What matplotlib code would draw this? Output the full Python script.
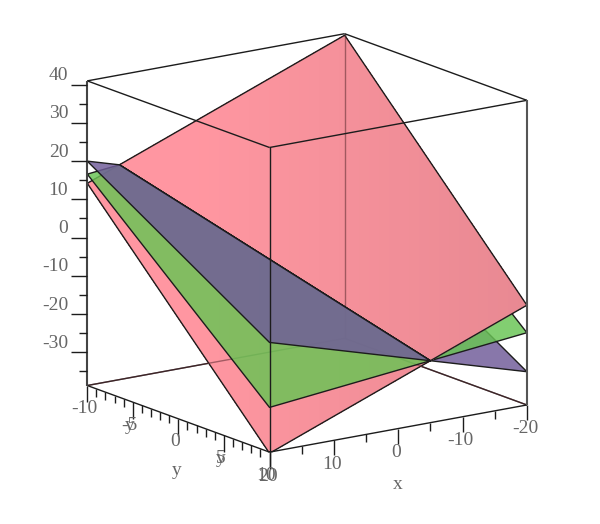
import numpy as np
import matplotlib
matplotlib.use("Agg")
import matplotlib.pyplot as plt
from mpl_toolkits.mplot3d import proj3d
from mpl_toolkits.mplot3d.art3d import Poly3DCollection

# axis ranges and ticks
x_range = [-20, 20]
y_range = [-10, 10]
z_range = [-38.7, 41.0]
x_major = [20, 10, 0, -10, -20]
x_minor = [15, 5, -5, -15]
y_major = [-10, -5, 0, 5, 10]
y_minor = [-9, -8, -7, -6, -4, -3, -2, -1, 1, 2, 3, 4, 6, 7, 8, 9]
z_major = [40, 30, 20, 10, 0, -10, -20, -30]
z_minor = [35, 25, 15, 5, -5, -15, -25, -35]

# height of each plane at the corners (x=20,y=-10), (x=20,y=10), (x=-20,y=10)
pink_z = [14.2, -39.0, -12.6]
green_z = [16.6, -27.0, -19.8]
purple_z = [20.0, -10.0, -30.0]

colors = [(1.0, 0.59, 0.63), (0.41, 0.77, 0.33), (0.44, 0.36, 0.60)]
alphas = [1.0, 0.83, 0.83]
ELEV, AZIM = 15.0, 54.7
SIDE_PX = 316.0
CENTER_PX = 307.75
LINE = "#1c1c1c"
GREY = "#666666"

th = np.radians(AZIM)
el = np.radians(ELEV)
x_span = x_range[1] - x_range[0]
y_span = y_range[1] - y_range[0]
z_span = z_range[1] - z_range[0]


def shift(right, down):
    # data offset that moves a point by some pixels on screen
    dx = -np.sin(th) * right * x_span / SIDE_PX
    dy = np.cos(th) * right * y_span / SIDE_PX
    dz = -down / np.cos(el) * z_span / SIDE_PX
    return np.array([dx, dy, dz])


def plane_from(zs):
    a = (zs[1] - zs[2]) / 40.0
    b = (zs[1] - zs[0]) / 20.0
    c = zs[0] - a * 20 + b * 10
    return a, b, c


def clip(verts, f):
    # keep the part of a convex polygon where f >= 0
    out = []
    n = len(verts)
    vals = [f(v) for v in verts]
    for i in range(n):
        p, q = verts[i], verts[(i + 1) % n]
        fp, fq = vals[i], vals[(i + 1) % n]
        if fp >= 0:
            out.append(p)
        if (fp > 0 and fq < 0) or (fp < 0 and fq > 0):
            out.append(p + (q - p) * fp / (fp - fq))
    return np.array(out) if len(out) >= 3 else None


def split(pieces, plane, sign):
    a, b, c = plane
    res = []
    for verts, k in pieces:
        part = clip(verts, lambda v: sign * (v[2] - a * v[0] - b * v[1] - c))
        if part is not None:
            res.append((part, k))
    return res


def paint_order(pieces, planes, level=0):
    if level == len(planes):
        return pieces
    own = [p for p in pieces if p[1] == level]
    rest = [p for p in pieces if p[1] != level]
    below = split(rest, planes[level], -1)
    above = split(rest, planes[level], 1)
    return paint_order(below, planes, level + 1) + own + paint_order(above, planes, level + 1)


def screen_x(v):
    u = -v[0] / x_span * np.sin(th) + v[1] / y_span * np.cos(th)
    return CENTER_PX + SIDE_PX * u


def shade(px):
    # the pink surface gets a little darker towards the right
    return 1.0 - 0.09 * np.clip((px - 200.0) / 327.0, 0, 1)


fig = plt.figure(figsize=(6.0, 5.24), dpi=100)
size = 524.0
ax = fig.add_axes([(CENTER_PX - 7.75 - size / 2) / 600, 1 - (243 + 7 + size / 2) / 524, size / 600, size / 524],
                  projection="3d")
ax.set_proj_type("ortho")
ax.view_init(elev=ELEV, azim=AZIM)
ax.set_box_aspect((1, 1, 1), zoom=1.012)
ax.set_xlim(x_range)
ax.set_ylim(y_range)
ax.set_zlim(z_range)
ax.set_axis_off()
ax.computed_zorder = False
ax.patch.set_alpha(0)
ax.apply_aspect()

x0, x1 = x_range
y0, y1 = y_range
z0, z1 = z_range
order = [1]


def seg(p, q, lw=1.0, color=LINE, alpha=1.0):
    ax.plot([p[0], q[0]], [p[1], q[1]], [p[2], q[2]], color=color, lw=lw, alpha=alpha,
            zorder=order[0], solid_capstyle="butt")
    order[0] += 1


# back edges go under the surfaces
back = (x0, y0, z0)
back_edges = [(x1, y0, z0), (x0, y1, z0), (x0, y0, z1)]
for end in back_edges:
    seg(back, end)

planes = [plane_from(z) for z in (pink_z, green_z, purple_z)]
pieces = []
for k, (a, b, c) in enumerate(planes):
    corners = [(x1, y0), (x1, y1), (x0, y1), (x0, y0)]
    poly = np.array([(x, y, a * x + b * y + c) for x, y in corners], dtype=float)
    poly = clip(poly, lambda v: z1 - v[2])
    poly = clip(poly, lambda v: v[2] - z0)
    pieces.append((poly, k))

for verts, k in paint_order(pieces, planes):
    if k == 0:
        # thin screen bands carry the shading
        for left in np.arange(80, 540, 10):
            band = clip(verts, lambda v: screen_x(v) - left)
            if band is None:
                continue
            band = clip(band, lambda v: left + 10 - screen_x(v))
            if band is None:
                continue
            col = np.array(colors[k]) * shade(left + 5)
            ax.add_collection3d(Poly3DCollection([band], facecolors=[col], edgecolors="none",
                                                 antialiased=False, zorder=order[0]))
            order[0] += 1
    else:
        ax.add_collection3d(Poly3DCollection([verts], facecolors=[(*colors[k], alphas[k])],
                                             edgecolors="none", zorder=order[0]))
        order[0] += 1
    ring = np.vstack([verts, verts[:1]])
    ax.plot(ring[:, 0], ring[:, 1], ring[:, 2], color=LINE, lw=1.0, zorder=order[0])
    order[0] += 1
    if k == 0:
        # the back of the box still shows faintly through the pink
        for end in back_edges:
            seg(back, end, color="#5a2a30", alpha=0.55)

# remaining box edges
seg((x1, y0, z1), (x1, y1, z1))
seg((x1, y1, z1), (x0, y1, z1))
seg((x1, y0, z1), (x0, y0, z1))
seg((x0, y0, z1), (x0, y1, z1))
seg((x1, y1, z0), (x1, y1, z1))
seg((x1, y0, z0), (x1, y1, z0))
seg((x1, y1, z0), (x0, y1, z0))
seg((x1, y0, z0), (x1, y0, z1), lw=1.5, color="#444444")
seg((x0, y1, z0), (x0, y1, z1), lw=1.5, color="#555555")

M = ax.get_proj()


def label(p, s, right, down, ha="center"):
    X, Y, _ = proj3d.proj_transform(p[0], p[1], p[2], M)
    px, py = ax.transData.transform((X, Y))
    fig.text((px + right) / 600, (py - down) / 524, s, color=GREY, family="Liberation Serif",
             fontsize=14, ha=ha, va="center")


# z axis on the left edge
for z in z_major:
    p = np.array((x1, y0, z), dtype=float)
    seg(p, p + shift(-16, 0))
    label(p, str(z), -19, -9, ha="right")
for z in z_minor:
    p = np.array((x1, y0, z), dtype=float)
    seg(p, p + shift(-8, 0))

# y axis
for y in y_major:
    p = np.array((x1, y, z0), dtype=float)
    seg(p, p + shift(0, 17))
    label(p, str(y), -3, 23)
for y in y_minor:
    p = np.array((x1, y, z0), dtype=float)
    seg(p, p + shift(0, 8))
label((x1, -5, z0), "y", -3, 23)
label((x1, 5, z0), "y", -3, 23)
label((x1, 0, z0), "y", -2, 52)

# x axis
for x in x_major:
    p = np.array((x, y1, z0), dtype=float)
    seg(p, p + shift(0, 15))
    label(p, str(x), -2, 24)
for x in x_minor:
    p = np.array((x, y1, z0), dtype=float)
    seg(p, p + shift(0, 8))
label((0, y1, z0), "x", 0, 56)

fig.savefig("out.png", dpi=100)
